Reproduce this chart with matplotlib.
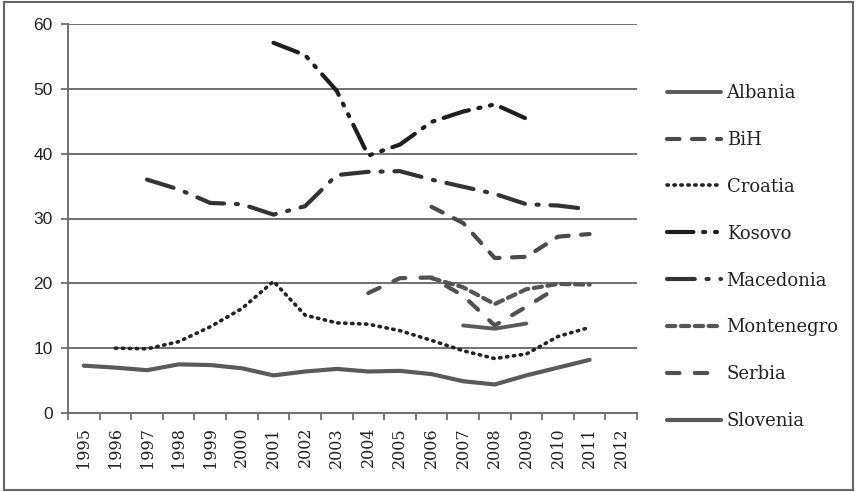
import numpy as np
import matplotlib
matplotlib.use("Agg")
import matplotlib.pyplot as plt
from matplotlib.patches import Rectangle

nan = np.nan
years = [str(y) for y in range(1995, 2013)]

albania    = [nan]*12 + [13.5, 13.0, 13.8, nan, nan, nan]
bih        = [nan]*11 + [31.8, 29.3, 23.9, 24.1, 27.2, 27.6, nan]
croatia    = [nan, 10.0, 9.9, 11.0, 13.3, 16.1, 20.3, 15.1, 13.9, 13.7, 12.7, 11.2, 9.6, 8.4, 9.1, 11.8, 13.2, nan]
kosovo     = [nan]*6 + [57.1, 55.2, 49.7, 39.7, 41.4, 44.9, 46.5, 47.6, 45.4, nan, nan, nan]
macedonia  = [nan, nan, 36.0, 34.5, 32.4, 32.2, 30.6, 31.9, 36.7, 37.2, 37.3, 36.0, 34.9, 33.8, 32.2, 32.0, 31.4, nan]
montenegro = [nan]*11 + [20.8, 19.4, 16.8, 19.1, 19.9, 19.8, nan]
serbia     = [nan]*9 + [18.5, 20.8, 20.9, 18.1, 13.5, 16.4, 19.4, nan, nan]
slovenia   = [7.3, 7.0, 6.6, 7.5, 7.4, 6.9, 5.8, 6.4, 6.8, 6.4, 6.5, 6.0, 4.9, 4.4, 5.8, 7.0, 8.2, nan]

plt.rcParams['lines.scale_dashes'] = False

fig = plt.figure(figsize=(8.56, 4.92), dpi=100)
ax = fig.add_axes([68/856, 1-413/492, (637-68)/856, (413-24)/492])

x = np.arange(len(years))

series = [
    ("Albania",    albania,    dict(color="#5a5a5a", lw=2.8, ls="-")),
    ("BiH",        bih,        dict(color="#4a4a4a", lw=3.0, ls=(0, (9, 9)))),
    ("Croatia",    croatia,    dict(color="#222222", lw=2.6, ls=(0, (1.0, 4.0)))),
    ("Kosovo",     kosovo,     dict(color="#1e1e1e", lw=3.0, ls=(0, (19, 7, 1.5, 7, 1.5, 7)))),
    ("Macedonia",  macedonia,  dict(color="#333333", lw=3.0, ls=(0, (20, 8.5, 1.5, 8.5)))),
    ("Montenegro", montenegro, dict(color="#555555", lw=3.0, ls=(0, (6, 4)))),
    ("Serbia",     serbia,     dict(color="#505050", lw=3.0, ls=(0, (9, 11)))),
    ("Slovenia",   slovenia,   dict(color="#5a5a5a", lw=3.0, ls="-")),
]

for name, vals, st in series:
    ax.plot(x, vals, label=name, solid_capstyle="round", dash_capstyle="round", **st)

ax.set_xlim(-0.5, len(years) - 0.5)
ax.set_ylim(0, 60)
ax.set_yticks(range(0, 61, 10))
ax.grid(axis="y", color="#707070", lw=1.4)
ax.set_axisbelow(True)

for s in ["top", "right"]:
    ax.spines[s].set_visible(False)
ax.spines["left"].set_color("#707070")
ax.spines["left"].set_linewidth(1.4)
ax.spines["bottom"].set_color("#707070")
ax.spines["bottom"].set_linewidth(1.4)

ax.set_xticks(x)
ax.set_xticklabels(years, rotation=90, fontfamily="DejaVu Serif", fontsize=11.5, color="#222222")
ax.set_xticks(np.arange(-0.5, len(years)), minor=True)
ax.tick_params(axis="x", which="major", length=0, pad=10)
ax.tick_params(axis="x", which="minor", length=5, width=1.3, color="#707070", direction="out")
ax.tick_params(axis="y", length=5, width=1.3, color="#707070", pad=6, labelsize=12.5, labelcolor="#222222")
for lab in ax.get_yticklabels():
    lab.set_fontfamily("Liberation Sans")

leg = ax.legend(loc="upper left", bbox_to_anchor=(667/856, 1-84/492), bbox_transform=fig.transFigure,
                frameon=False, prop={"family": "DejaVu Serif", "size": 13},
                handlelength=3.0, handletextpad=0.3, labelspacing=1.6, borderaxespad=0, borderpad=0)
for t in leg.get_texts():
    t.set_color("#222222")

fig.patches.append(Rectangle((4/856, 2/492), 849/856, 488/492, transform=fig.transFigure,
                             fill=False, edgecolor="#666666", lw=1.5))

fig.savefig("out.png", dpi=100)
